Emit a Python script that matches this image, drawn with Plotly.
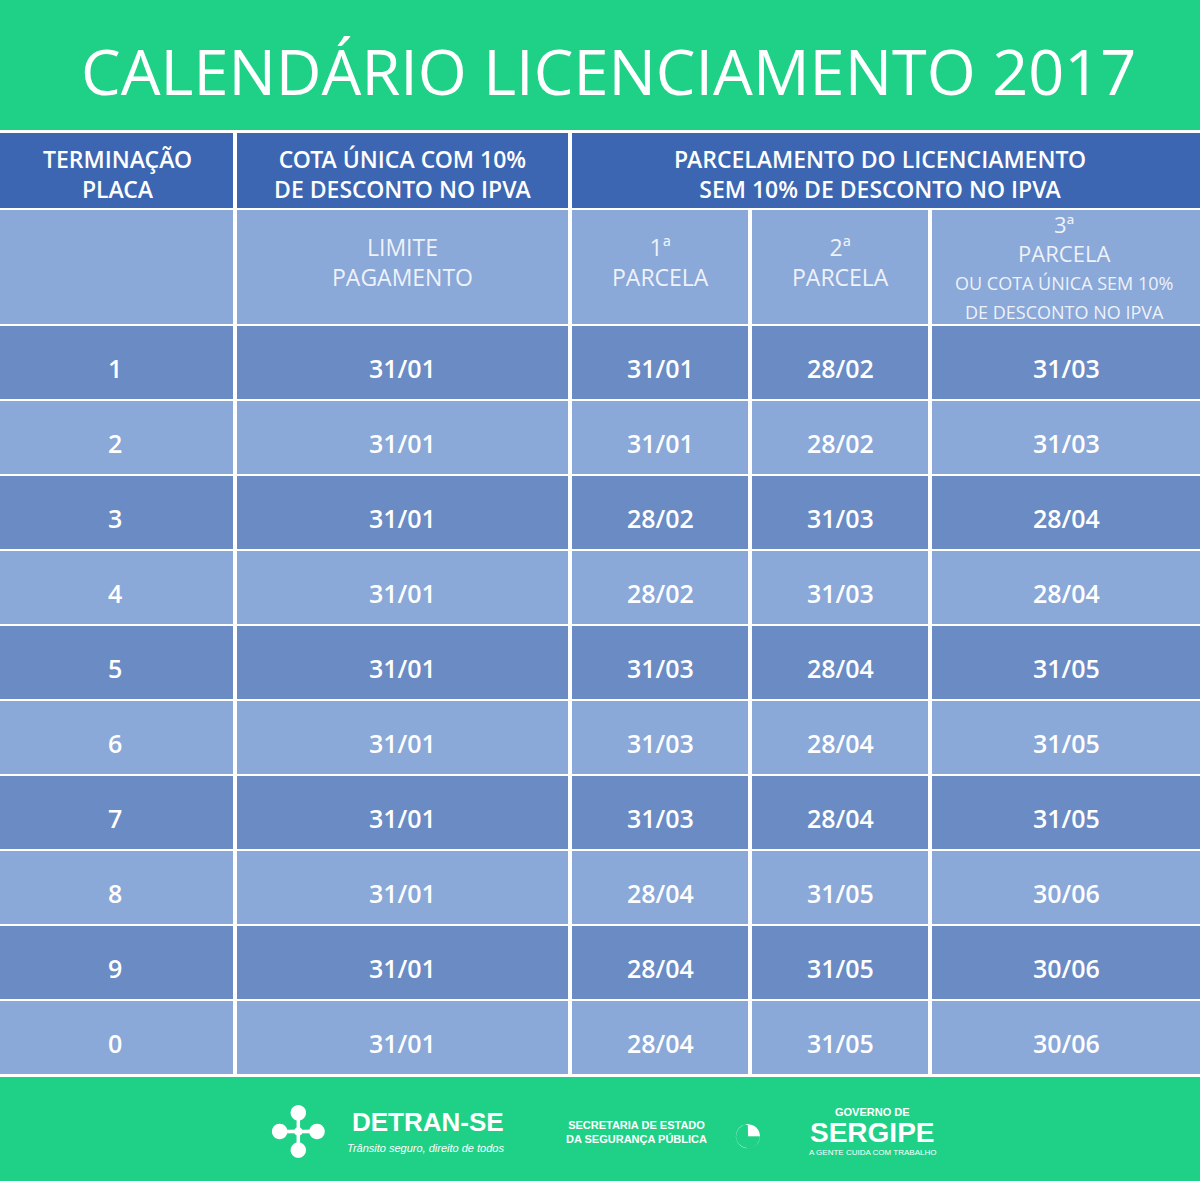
import plotly.graph_objects as go

title = "CALENDÁRIO LICENCIAMENTO 2017"
plates = ["1", "2", "3", "4", "5", "6", "7", "8", "9", "0"]
cota_unica = ["31/01"] * 10
parcela1 = ["31/01", "31/01", "28/02", "28/02", "31/03", "31/03", "31/03", "28/04", "28/04", "28/04"]
parcela2 = ["28/02", "28/02", "31/03", "31/03", "28/04", "28/04", "28/04", "31/05", "31/05", "31/05"]
parcela3 = ["31/03", "31/03", "28/04", "28/04", "31/05", "31/05", "31/05", "30/06", "30/06", "30/06"]
head1 = ["TERMINAÇÃO<br>PLACA", "COTA ÚNICA COM 10%<br>DE DESCONTO NO IPVA", "PARCELAMENTO DO LICENCIAMENTO<br>SEM 10% DE DESCONTO NO IPVA"]
head2 = ["", "LIMITE<br>PAGAMENTO", "1ª<br>PARCELA", "2ª<br>PARCELA"]

W, H = 1200, 1181
GREEN = "#1ed186"
DARK = "#3c66b2"
ROWD = "#6a8bc4"
ROWL = "#8aa8d8"
shapes, ann = [], []

def rect(x0, y0, x1, y1, c):
    shapes.append(dict(type="rect", x0=x0, x1=x1, y0=y0, y1=y1, fillcolor=c, line=dict(width=0), layer="below"))

def txt(x, y, s, size, color="white", fam="Open Sans", **kw):
    ann.append(dict(x=x, y=y, text=s, showarrow=False, font=dict(size=size, color=color, family=fam), xanchor="center", yanchor="middle", **kw))

rect(0, 0, W, H, "white")
rect(0, 0, W, 130, GREEN)
txt(608, 70, title, 63, fam="Open Sans")
rect(0, 133, 233, 208, DARK); rect(237, 133, 568, 208, DARK); rect(572, 133, W, 208, DARK)
for x, s in zip([117, 403, 880], head1):
    txt(x, 174, s, 23, fam="Open Sans SemiBold, Open Sans")
bounds = [(0, 233), (237, 568), (572, 748), (752, 928), (932, W)]
for (a, b) in bounds:
    rect(a, 210, b, 324, ROWL)
for i, s in enumerate(head2):
    if s:
        txt((bounds[i][0] + bounds[i][1]) / 2, 262, s, 23, color="#eef2fa")
txt(1064, 266, "3ª<br>PARCELA<br><span style='font-size:18px'>OU COTA ÚNICA SEM 10%<br>DE DESCONTO NO IPVA</span>", 22, color="#eef2fa")
rows = list(zip(plates, cota_unica, parcela1, parcela2, parcela3))
top, rh = 326, 75
for r, vals in enumerate(rows):
    y0 = top + r * rh
    c = ROWD if r % 2 == 0 else ROWL
    for (a, b) in bounds:
        rect(a, y0, b, y0 + rh - 2, c)
    for i, v in enumerate(vals):
        xc = 115 if i == 0 else (bounds[i][0] + bounds[i][1]) / 2
        txt(xc, y0 + 42, v, 25, fam="Open Sans SemiBold, Open Sans")
rect(0, 1077, W, H, GREEN)
txt(428, 1122, "<b>DETRAN-SE</b>", 26, fam="Liberation Sans")
txt(425, 1148, "<i>Trânsito seguro, direito de todos</i>", 11, fam="Liberation Sans")
txt(298, 1130, "✣", 70)
txt(636, 1132, "<b>SECRETARIA DE ESTADO<br>DA SEGURANÇA PÚBLICA</b>", 11, fam="Liberation Sans")
txt(748, 1130, "◔", 56)
txt(872, 1112, "<b>GOVERNO DE</b>", 11, fam="Liberation Sans")
txt(872, 1132, "<b>SERGIPE</b>", 28, fam="Liberation Sans")
txt(872, 1152, "A GENTE CUIDA COM TRABALHO", 8, fam="Liberation Sans")

fig = go.Figure()
fig.update_layout(width=W, height=H, margin=dict(l=0, r=0, t=0, b=0), paper_bgcolor="white", plot_bgcolor="white",
                  xaxis=dict(range=[0, W], visible=False, fixedrange=True),
                  yaxis=dict(range=[H, 0], visible=False, fixedrange=True),
                  shapes=shapes, annotations=ann, showlegend=False)
fig.write_html("out.html", config={"displayModeBar": False},
               post_script="document.body.style.margin='0';document.body.style.overflow='hidden';")
